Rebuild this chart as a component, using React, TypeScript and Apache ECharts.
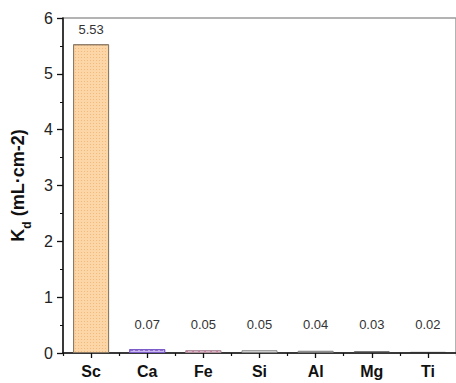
import React, { useEffect, useRef } from "react";
import * as echarts from "echarts";

const categories = ["Sc", "Ca", "Fe", "Si", "Al", "Mg", "Ti"];
const kdValues = [5.53, 0.07, 0.05, 0.05, 0.04, 0.03, 0.02];
const yTicks = { min: 0, max: 6, interval: 1 };

const FONT = 'Arial, "Liberation Sans", sans-serif';

const barStyles = [
  { color: "#fdd6a8", borderColor: "#8a7a66", decal: { symbol: "rect", symbolSize: 1, dashArrayX: [1, 2], dashArrayY: [1, 2], color: "rgba(235,150,70,0.45)" }, labelDist: 8 },
  { color: "#cbb8f0", borderColor: "#7b5cc8", decal: { symbol: "rect", symbolSize: 1, dashArrayX: [3, 2], dashArrayY: [1, 1], color: "rgba(110,70,190,0.6)" }, labelDist: 18 },
  { color: "#ecd3dd", borderColor: "#b0909c", decal: { symbol: "circle", symbolSize: 1, dashArrayX: [2, 4], dashArrayY: [2, 1], color: "rgba(200,70,140,0.7)" }, labelDist: 19 },
  { color: "#dedede", borderColor: "#888888", decal: null, labelDist: 19 },
  { color: "#d8d8d8", borderColor: "#777777", decal: null, labelDist: 20 },
  { color: "#bbbbbb", borderColor: "#444444", decal: null, labelDist: 20 },
  { color: "#999999", borderColor: "#333333", decal: null, labelDist: 21 },
];

export default function App() {
  const ref = useRef<HTMLDivElement>(null);
  useEffect(() => {
    if (!ref.current) return;
    const chart = echarts.init(ref.current, null, { renderer: "svg" });
    const data = kdValues.map((v, i) => {
      const s = barStyles[i];
      const itemStyle: any = { color: s.color, borderColor: s.borderColor, borderWidth: 1 };
      if (s.decal) itemStyle.decal = s.decal;
      return {
        value: v,
        itemStyle,
        label: { distance: s.labelDist },
      };
    });
    chart.setOption({
      animation: false,
      textStyle: { fontFamily: FONT },
      grid: {
        left: 63,
        top: 18,
        width: 401,
        bottom: 30,
        show: true,
        borderColor: "#9a9a9a",
        borderWidth: 1.5,
        containLabel: false,
      },
      xAxis: [
        {
          type: "category",
          data: categories,
          position: "bottom",
          axisLine: { show: true, lineStyle: { color: "#111", width: 1.5 } },
          axisTick: { show: true, inside: false, alignWithLabel: true, length: 5, lineStyle: { color: "#111", width: 1.3 } },
          axisLabel: { fontSize: 16, fontWeight: "bold", color: "#111", margin: 10, fontFamily: FONT },
        },
        {
          type: "category",
          data: categories,
          position: "bottom",
          offset: 0,
          axisLine: { show: false },
          axisTick: { show: true, inside: false, length: 3, lineStyle: { color: "#111", width: 1.2 } },
          axisLabel: { show: false },
        },
      ],
      yAxis: {
        type: "value",
        position: "left",
        min: yTicks.min,
        max: yTicks.max,
        interval: yTicks.interval,
        splitLine: { show: false },
        axisLine: { show: true, lineStyle: { color: "#111", width: 1.5 } },
        axisTick: { show: true, inside: false, length: 6, lineStyle: { color: "#111", width: 1.3 } },
        minorTick: { show: true, splitNumber: 2, length: 3, lineStyle: { color: "#111", width: 1 } },
        axisLabel: { fontSize: 16, color: "#222", margin: 10, fontFamily: FONT },
        name: "{k|K}{sub|d}{rest| (mL·cm-2)}",
        nameLocation: "middle",
        nameGap: 30,
        nameTextStyle: {
          rich: {
            k: { fontSize: 18, fontWeight: "bold", color: "#111", fontFamily: FONT, lineHeight: 22, verticalAlign: "middle" },
            sub: { fontSize: 12, fontWeight: "bold", color: "#111", fontFamily: FONT, lineHeight: 30, verticalAlign: "bottom" },
            rest: { fontSize: 18, fontWeight: "bold", color: "#111", fontFamily: FONT, lineHeight: 22, verticalAlign: "middle" },
          },
        },
      },
      series: [
        {
          type: "bar",
          xAxisIndex: 0,
          data,
          barWidth: 36,
          label: {
            show: true,
            position: "top",
            fontSize: 13,
            color: "#333",
            fontFamily: FONT,
            formatter: (p: any) => p.value.toFixed(2),
          },
        },
      ],
    });
    return () => chart.dispose();
  }, []);
  return <div ref={ref} style={{ width: 456, height: 383, position: "absolute", left: 0, top: 0 }} />;
}
